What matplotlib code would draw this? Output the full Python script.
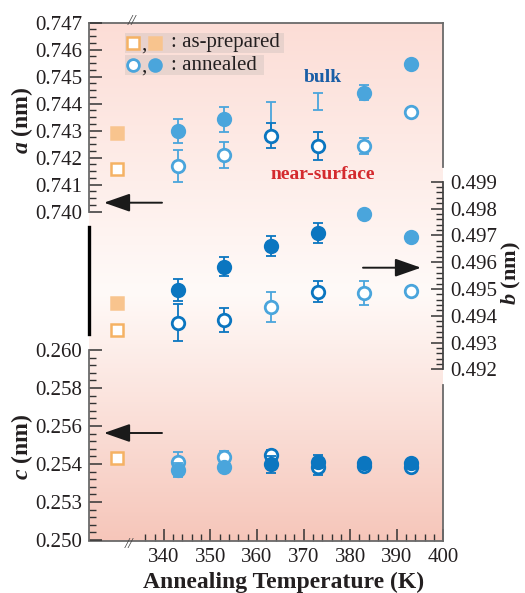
import numpy as np
import matplotlib
matplotlib.use("Agg")
import matplotlib.pyplot as plt
from matplotlib.ticker import FixedLocator, NullFormatter
from matplotlib.patches import Rectangle

plt.rcParams['font.family'] = ['Liberation Serif', 'DejaVu Serif']
plt.rcParams['mathtext.fontset'] = 'custom'
plt.rcParams['mathtext.rm'] = 'Liberation Serif'
plt.rcParams['mathtext.bf'] = 'Liberation Serif:bold'
plt.rcParams['mathtext.bfit'] = 'Liberation Serif:bold:italic'

# ---------------- data ----------------
temps = [343, 353, 363, 373, 383, 393]
t_prep = 330

a_prep = [0.74158, 0.74290]          # open, filled
a_open = [0.74170, 0.74210, 0.74281, 0.74243, 0.74243, 0.74368]
a_open_err = [0.00059, 0.00048, 0.00046, 0.00051, 0.00031, 0.00012]
a_fill = [0.74299, 0.74343, 0.74343, 0.74407, 0.74441, 0.74547]
a_fill_err = [0.00044, 0.00046, 0.00062, 0.00031, 0.00027, 0.00012]
a_fill_shown = [True, True, False, False, True, True]

b_prep = [0.49346, 0.49449]
b_open = [0.49374, 0.49384, 0.49434, 0.49490, 0.49484, 0.49492]
b_open_err = [0.00068, 0.00045, 0.00056, 0.00039, 0.00045, 0.00012]
b_fill = [0.49496, 0.49583, 0.49660, 0.49708, 0.49778, 0.49695]
b_fill_err = [0.00040, 0.00036, 0.00036, 0.00037, 0.00012, 0.00010]

c_prep = [0.25430]
c_open = [0.25412, 0.25435, 0.25447, 0.25386, 0.25390, 0.25386]
c_open_err = [0.00050, 0.00035, 0.00026, 0.00044, 0.00015, 0.00015]
c_fill = [0.25368, 0.25386, 0.25398, 0.25412, 0.25407, 0.25407]
c_fill_err = [0.00038, 0.00020, 0.00044, 0.00035, 0.00012, 0.00015]

a_ticks = [0.740, 0.741, 0.742, 0.743, 0.744, 0.745, 0.746, 0.747]
b_ticks = [0.492, 0.493, 0.494, 0.495, 0.496, 0.497, 0.498, 0.499]
c_ticks = [0.250, 0.252, 0.254, 0.256, 0.258, 0.260]
c_ticklabels = ['0.250', '0.253', '0.254', '0.256', '0.258', '0.260']
x_ticks = [340, 350, 360, 370, 380, 390, 400]

# ---------------- styles ----------------
DARK = '#0b76c0'
LIGHT = '#4aa5dc'
ORANGE_EDGE = '#f5b264'
ORANGE_FILL = '#f8c48e'
TXT = '#231f20'
SPINE = '#6a6a6a'

a_open_col = [LIGHT, LIGHT, DARK, DARK, LIGHT, LIGHT]
a_fill_col = [LIGHT] * 6
b_open_col = [DARK, DARK, LIGHT, DARK, LIGHT, LIGHT]
b_fill_col = [DARK, DARK, DARK, DARK, LIGHT, LIGHT]
c_open_col = [LIGHT, LIGHT, DARK, DARK, DARK, DARK]
c_fill_col = [LIGHT, LIGHT, DARK, DARK, DARK, DARK]

W, H = 525, 593
L, R, T, B = 89.3, 443.3, 22.5, 541.0
MS = 9

fig = plt.figure(figsize=(W / 100, H / 100), dpi=100)
rect = [L / W, 1 - B / H, (R - L) / W, (B - T) / H]


def frac(px, py):
    return ((px - L) / (R - L), (B - py) / (B - T))


def lims(v_ref, py_ref, px_per_unit):
    return (v_ref - (B - py_ref) / px_per_unit, v_ref + (py_ref - T) / px_per_unit)


def ftext(px, py, s, **kw):
    return fig.text(px / W, 1 - py / H, s, **kw)


# background axes with gradient
ax_bg = fig.add_axes(rect)
ax_bg.set_xlim(324, 400)
ax_bg.set_ylim(0, 1)
stops = [0.0, 0.48, 1.0]
cols = np.array([[0xf6, 0xc6, 0xba], [0xff, 0xfa, 0xf8], [0xfc, 0xdd, 0xd6]]) / 255
yy = np.linspace(0, 1, 300)
grad = np.stack([np.interp(yy, stops, cols[:, k]) for k in range(3)], axis=-1)[:, None, :]
ax_bg.imshow(grad, extent=[0, 1, 0, 1], transform=ax_bg.transAxes, aspect='auto',
             origin='lower', zorder=0)
ax_bg.set_xlim(324, 400)
for s in ['top', 'bottom', 'right']:
    ax_bg.spines[s].set_color(SPINE)
    ax_bg.spines[s].set_linewidth(1.3)
ax_bg.spines['left'].set_color('black')
ax_bg.spines['left'].set_linewidth(2.4)
ax_bg.spines['left'].set_bounds(frac(0, 334)[1], frac(0, 227)[1])
ax_bg.spines['right'].set_bounds(frac(0, 167)[1], 1)
ax_bg.set_yticks([])
ax_bg.xaxis.set_major_locator(FixedLocator(x_ticks))
ax_bg.xaxis.set_minor_locator(FixedLocator(np.arange(336, 401, 2)))
ax_bg.tick_params(axis='x', which='major', direction='in', length=9, width=1.1,
                  color='#333333', labelsize=15, labelcolor=TXT, pad=5)
ax_bg.tick_params(axis='x', which='minor', direction='in', length=5, width=1.0,
                  color='#333333')


def make_axis(ylim):
    ax = fig.add_axes(rect, sharex=ax_bg)
    ax.patch.set_visible(False)
    ax.set_ylim(*ylim)
    for s in ax.spines.values():
        s.set_visible(False)
    ax.tick_params(axis='x', which='both', bottom=False, labelbottom=False)
    return ax


ax_a = make_axis(lims(0.747, 22.7, 27000))
ax_b = make_axis(lims(0.499, 181.7, 26800))
ax_c = make_axis(lims(0.250, 540.0, 19000))

for ax, ticks, minor, side in [(ax_a, a_ticks, 0.00025, 'left'),
                               (ax_b, b_ticks, 0.0002, 'right'),
                               (ax_c, c_ticks, 0.0004, 'left')]:
    sp = ax.spines[side]
    sp.set_visible(True)
    sp.set_color('#444444' if side == 'right' else SPINE)
    sp.set_linewidth(1.3)
    sp.set_bounds(ticks[0], ticks[-1])
    if side == 'right':
        ax.yaxis.tick_right()
    ax.yaxis.set_major_locator(FixedLocator(ticks))
    n = int(round((ticks[-1] - ticks[0]) / minor))
    ax.yaxis.set_minor_locator(FixedLocator([ticks[0] + i * minor for i in range(n + 1)]))
    ax.yaxis.set_minor_formatter(NullFormatter())
    ax.tick_params(axis='y', which='major', direction='in', length=9, width=1.1,
                   color='#333333', labelsize=15, labelcolor=TXT, pad=5)
    ax.tick_params(axis='y', which='minor', direction='in', length=5, width=1.0,
                   color='#333333')

ax_a.set_yticklabels(['%.3f' % v for v in a_ticks])
ax_b.set_yticklabels(['%.3f' % v for v in b_ticks])
ax_c.set_yticklabels(c_ticklabels)

# lower gray segment of the right frame
ax_c.spines['right'].set_visible(True)
ax_c.spines['right'].set_color(SPINE)
ax_c.spines['right'].set_linewidth(1.3)
ax_c.spines['right'].set_bounds(ax_c.get_ylim()[0], 0.250 + (540 - 385) / 19000)
ax_c.tick_params(axis='y', which='both', right=False)


def draw_series(ax, y, err, colors, filled, z, shown=None):
    for i, (t, v, e, c) in enumerate(zip(temps, y, err, colors)):
        ax.errorbar([t], [v], yerr=e, fmt='none', ecolor=c, elinewidth=1.3,
                    capsize=3.3, capthick=1.3, zorder=z - 1)
        if shown is not None and not shown[i]:
            continue
        ax.plot([t], [v], 'o', ms=MS, mec=c, mew=2.0,
                mfc=c if filled else 'white', zorder=z)


def draw_prep(ax, vals):
    ax.plot([t_prep], [vals[0]], 's', ms=8, mec=ORANGE_EDGE, mfc='white', mew=1.8, zorder=4)
    if len(vals) > 1:
        ax.plot([t_prep], [vals[1]], 's', ms=8, mec=ORANGE_FILL, mfc=ORANGE_FILL,
                mew=1.8, zorder=4)


draw_series(ax_a, a_fill, a_fill_err, a_fill_col, True, 4, a_fill_shown)
draw_series(ax_a, a_open, a_open_err, a_open_col, False, 6)
draw_prep(ax_a, a_prep)

draw_series(ax_b, b_fill, b_fill_err, b_fill_col, True, 4)
draw_series(ax_b, b_open, b_open_err, b_open_col, False, 6)
draw_prep(ax_b, b_prep)

draw_series(ax_c, c_open, c_open_err, c_open_col, False, 4)
draw_series(ax_c, c_fill, c_fill_err, c_fill_col, True, 6)
draw_prep(ax_c, c_prep)

# ---------------- legend ----------------
for x0, x1, y0, y1 in [(125, 284, 33.5, 53), (125, 264, 55.5, 75)]:
    fx0, fy0 = frac(x0, y1)
    fx1, fy1 = frac(x1, y0)
    ax_bg.add_patch(Rectangle((fx0, fy0), fx1 - fx0, fy1 - fy0, transform=ax_bg.transAxes,
                              facecolor='#cbbfbb', alpha=0.4, edgecolor='none', zorder=2))
ax_bg.plot(*frac(132.7, 43), 's', ms=8, mec=ORANGE_EDGE, mfc='white', mew=1.8,
           transform=ax_bg.transAxes, zorder=5)
ax_bg.plot(*frac(155, 43), 's', ms=8, mec=ORANGE_FILL, mfc=ORANGE_FILL, mew=1.8,
           transform=ax_bg.transAxes, zorder=5)
ax_bg.plot(*frac(132.7, 65), 'o', ms=MS - 0.5, mec=LIGHT, mfc='white', mew=2.0,
           transform=ax_bg.transAxes, zorder=5)
ax_bg.plot(*frac(155, 65), 'o', ms=MS - 0.5, mec=LIGHT, mfc=LIGHT, mew=2.0,
           transform=ax_bg.transAxes, zorder=5)
ftext(143.5, 45, ',', fontsize=15, color=TXT, ha='center', va='center')
ftext(143.5, 67, ',', fontsize=15, color=TXT, ha='center', va='center')
ftext(171, 43, ': as-prepared', fontsize=15, color=TXT, ha='left', va='center')
ftext(171, 65, ': annealed', fontsize=15, color=TXT, ha='left', va='center')

# region labels
ftext(323, 78, 'bulk', fontsize=14, fontweight='bold', color='#1a5ea6', ha='center', va='center')
ftext(323, 175, 'near-surface', fontsize=14, fontweight='bold', color='#d42a2e',
      ha='center', va='center')

# arrows
arrow = dict(arrowstyle='-|>,head_length=0.8,head_width=0.28', color='#1a1a1a', lw=1.4,
             mutation_scale=20, shrinkA=0, shrinkB=0)
for (x0, y0), (x1, y1) in [((162, 202.7), (104, 202.7)),
                           ((162, 433), (104, 433)),
                           ((363, 267.7), (421, 267.7))]:
    ax_bg.annotate('', xy=frac(x1, y1), xytext=frac(x0, y0), xycoords='axes fraction',
                   textcoords='axes fraction', arrowprops=arrow, zorder=5)

# axis break marks
ftext(132, 21.5, '//', fontsize=11, color='#444444', ha='center', va='center', style='italic')
ftext(129, 545, '//', fontsize=11, color='#444444', ha='center', va='center', style='italic')

# axis labels
ftext(22, 120, r'$\mathbfit{a}$ (nm)', fontsize=17, fontweight='bold', color=TXT,
      rotation=90, ha='center', va='center')
ftext(22, 447, r'$\mathbfit{c}$ (nm)', fontsize=17, fontweight='bold', color=TXT,
      rotation=90, ha='center', va='center')
ftext(511, 273, r'$\mathbfit{b}$ (nm)', fontsize=16, fontweight='bold', color=TXT,
      rotation=90, ha='center', va='center')
ftext(284, 582, 'Annealing Temperature (K)', fontsize=17, fontweight='bold', color=TXT,
      ha='center', va='center')

fig.savefig('out.png', dpi=100)
